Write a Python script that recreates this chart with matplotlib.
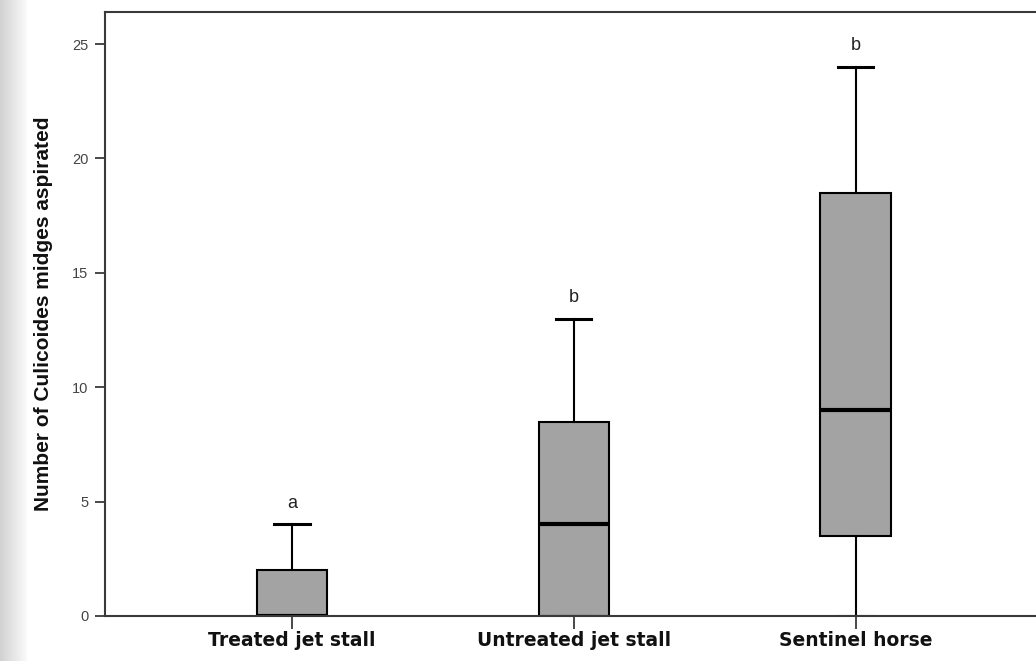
import matplotlib.pyplot as plt
import numpy as np

# ── box statistics ──────────────────────────────────────────────────────────
groups   = ['Treated jet stall', 'Untreated jet stall', 'Sentinel horse']
whislo   = [0, 0, 0]
q1       = [0, 0, 3.5]
medians  = [0, 4, 9]
q3       = [2, 8.5, 18.5]
whishi   = [4, 13, 24]
letters  = ['a', 'b', 'b']
yticks   = [0, 5, 10, 15, 20, 25]

BOX_FILL = '#a3a3a3'
AX_COL   = '#3a3a3a'

fig = plt.figure(figsize=(10.36, 6.61), dpi=100)
fig.patch.set_facecolor('white')

# light gray gradient strip on the left edge (screenshot frame)
bg = fig.add_axes([0, 0, 0.026, 1])
bg.imshow(np.linspace(0.82, 0.98, 64)[None, :], cmap='gray', vmin=0, vmax=1,
          aspect='auto', extent=[0, 1, 0, 1])
bg.axis('off')

ax = fig.add_axes([0.1014, 0.0681, 0.8986, 0.9137])

stats = [dict(whislo=lo, q1=a, med=m, q3=b, whishi=hi, fliers=[], label=g)
         for g, lo, a, m, b, hi in zip(groups, whislo, q1, medians, q3, whishi)]

ax.bxp(stats, positions=range(len(groups)), widths=0.25, patch_artist=True,
       showfliers=False,
       boxprops=dict(facecolor=BOX_FILL, edgecolor='black', linewidth=1.5),
       medianprops=dict(color='black', linewidth=3),
       whiskerprops=dict(color='black', linewidth=1.5),
       capprops=dict(color='black', linewidth=2.2),
       capwidths=0.125)

for i, (lt, hi) in enumerate(zip(letters, whishi)):
    ax.text(i, hi + 0.55, lt, ha='center', va='bottom', fontsize=13,
            family='Liberation Sans', color='#222222')

ax.set_xlim(-0.663, 2.64)
ax.set_ylim(0, 26.4)
ax.set_yticks(yticks)
ax.set_yticklabels([str(t) for t in yticks], fontsize=10.5,
                   family='Liberation Sans', color='#444444')
ax.set_xticks(range(len(groups)))
ax.set_xticklabels(groups, fontsize=13.5, fontweight='bold',
                   family='DejaVu Sans', color='#111111')
ax.tick_params(axis='y', direction='out', length=7, width=1.3, color=AX_COL, pad=5)
ax.tick_params(axis='x', direction='out', length=9, width=1.3, color=AX_COL, pad=2)

for side in ['left', 'bottom', 'top']:
    ax.spines[side].set_color(AX_COL)
    ax.spines[side].set_linewidth(1.5)
ax.spines['right'].set_visible(False)

ax.set_ylabel('Number of Culicoides midges aspirated', fontsize=15,
              fontweight='bold', family='Liberation Sans',
              color='#111111', labelpad=14)

fig.savefig('out.png', dpi=100)
